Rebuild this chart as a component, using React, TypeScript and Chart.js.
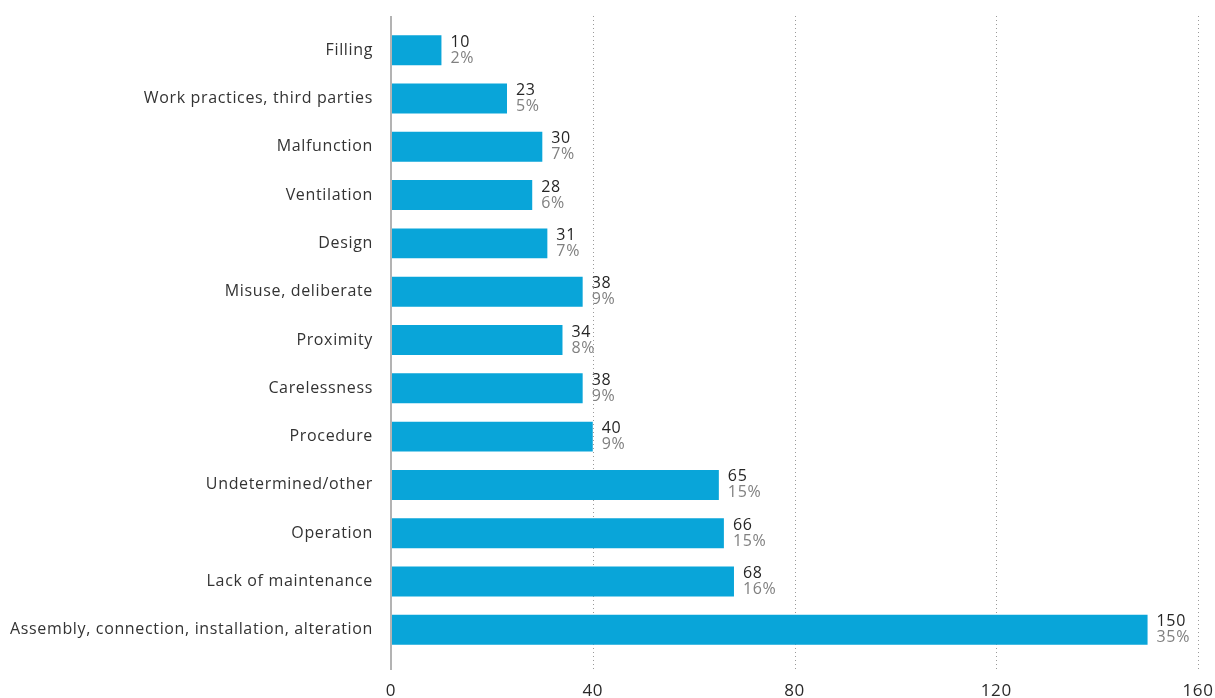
import React, { useEffect, useRef } from "react";
import { Chart, registerables } from "chart.js";

Chart.register(...registerables);

const categories = [
  "Filling",
  "Work practices, third parties",
  "Malfunction",
  "Ventilation",
  "Design",
  "Misuse, deliberate",
  "Proximity",
  "Carelessness",
  "Procedure",
  "Undetermined/other",
  "Operation",
  "Lack of maintenance",
  "Assembly, connection, installation, alteration",
];
const counts = [10, 23, 30, 28, 31, 38, 34, 38, 40, 65, 66, 68, 150];
const percents = [2, 5, 7, 6, 7, 9, 8, 9, 9, 15, 15, 16, 35];
const xTicks = [0, 40, 80, 120, 160];

const FONT = "'Open Sans', 'DejaVu Sans', sans-serif";
const SPACING = "0.65px";

const spacingPlugin = {
  id: "letterSpacing",
  beforeUpdate(chart: any) {
    if (chart.ctx) chart.ctx.letterSpacing = SPACING;
  },
  beforeLayout(chart: any) {
    if (chart.ctx) chart.ctx.letterSpacing = SPACING;
  },
  beforeDraw(chart: any) {
    if (chart.ctx) chart.ctx.letterSpacing = SPACING;
  },
};

const gridPlugin = {
  id: "customGrid",
  beforeDatasetsDraw(chart: any) {
    const { ctx, chartArea, scales } = chart;
    const x = scales.x;
    const top = chartArea.top - 10;
    const bottom = chartArea.bottom + 16;
    ctx.save();
    ctx.strokeStyle = "#9a9a9a";
    ctx.lineWidth = 1;
    ctx.setLineDash([1, 3]);
    xTicks.slice(1).forEach((v) => {
      const px = Math.round(x.getPixelForValue(v)) + 0.5;
      ctx.beginPath();
      ctx.moveTo(px, top);
      ctx.lineTo(px, bottom);
      ctx.stroke();
    });
    ctx.restore();
  },
  afterDatasetsDraw(chart: any) {
    const { ctx, chartArea, scales } = chart;
    const x = scales.x;
    const top = chartArea.top - 10;
    const bottom = chartArea.bottom + 16;
    ctx.save();
    const px0 = x.getPixelForValue(0);
    ctx.strokeStyle = "#b3b3b3";
    ctx.lineWidth = 2;
    ctx.beginPath();
    ctx.moveTo(px0, top);
    ctx.lineTo(px0, bottom);
    ctx.stroke();

    const meta = chart.getDatasetMeta(0);
    ctx.letterSpacing = SPACING;
    ctx.textAlign = "left";
    ctx.textBaseline = "middle";
    meta.data.forEach((bar: any, i: number) => {
      const bx = bar.x + 9;
      const by = bar.y;
      ctx.fillStyle = "#262626";
      ctx.font = `500 16px ${FONT}`;
      ctx.fillText(String(counts[i]), bx, by - 8);
      ctx.fillStyle = "#808080";
      ctx.font = `400 16px ${FONT}`;
      ctx.fillText(`${percents[i]}%`, bx, by + 8);
    });
    ctx.restore();
  },
};

export default function App() {
  const ref = useRef<HTMLCanvasElement | null>(null);

  useEffect(() => {
    if (!ref.current) return;
    const chart = new Chart(ref.current, {
      type: "bar",
      data: {
        labels: categories,
        datasets: [
          {
            data: counts,
            backgroundColor: "#09a5d9",
            borderWidth: 0,
            barPercentage: 0.62,
            categoryPercentage: 1,
          },
        ],
      },
      options: {
        indexAxis: "y",
        animation: false,
        responsive: true,
        maintainAspectRatio: false,
        layout: { padding: { top: 26, right: 17, left: 0, bottom: 0 } },
        plugins: {
          legend: { display: false },
          tooltip: { enabled: false },
        },
        scales: {
          x: {
            min: 0,
            max: 160,
            afterBuildTicks: (scale: any) => {
              scale.ticks = xTicks.map((v) => ({ value: v }));
            },
            afterFit: (scale: any) => {
              scale.height = 44;
              scale.paddingLeft = 0;
              scale.paddingRight = 0;
            },
            grid: { display: false, drawTicks: false },
            border: { display: false },
            ticks: {
              padding: 27,
              color: "#2a2a2a",
              font: { family: FONT, size: 17 },
              maxRotation: 0,
            },
          },
          y: {
            afterFit: (scale: any) => {
              scale.width = 391;
              scale.paddingTop = 0;
              scale.paddingBottom = 0;
            },
            grid: { display: false, drawTicks: false },
            border: { display: false },
            ticks: {
              padding: 18,
              color: "#333333",
              font: { family: FONT, size: 16 },
            },
          },
        },
      },
      plugins: [spacingPlugin, gridPlugin],
    });
    return () => chart.destroy();
  }, []);

  return (
    <div
      style={{
        position: "fixed",
        left: 0,
        top: 0,
        width: 1215,
        height: 698,
        background: "#ffffff",
      }}
    >
      <canvas ref={ref} />
    </div>
  );
}
